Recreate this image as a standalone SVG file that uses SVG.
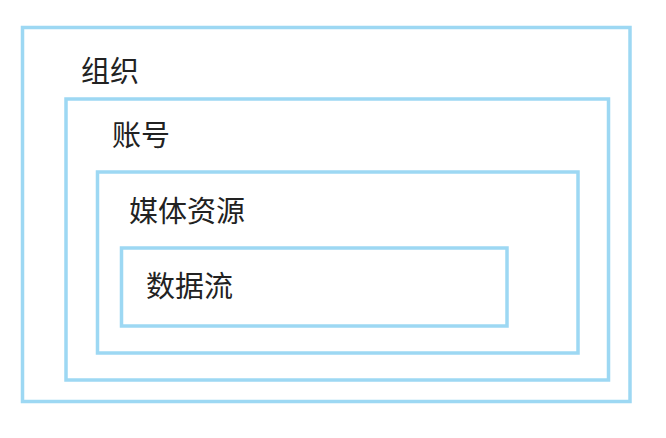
<svg xmlns="http://www.w3.org/2000/svg" width="666" height="438" viewBox="0 0 666 438">
<style>
.box{fill:none;stroke:#9dd8f3;stroke-width:3.5}
.lbl{font-family:"Noto Sans CJK SC","Noto Sans",sans-serif;font-size:29px;fill:#222}
</style>
<rect width="666" height="438" fill="#fff"/>
<g id="org"><rect class="box" x="22.5" y="27.5" width="607.5" height="374"/><text class="lbl" x="81" y="82">组织</text></g>
<g id="account"><rect class="box" x="66" y="99" width="542.5" height="281"/><text class="lbl" x="112" y="146">账号</text></g>
<g id="media"><rect class="box" x="97.5" y="172" width="480.5" height="181"/><text class="lbl" x="129" y="222">媒体资源</text></g>
<g id="stream"><rect class="box" x="121.5" y="248" width="385.5" height="78"/><text class="lbl" x="146" y="297">数据流</text></g>
<g id="connectors"/>
</svg>
